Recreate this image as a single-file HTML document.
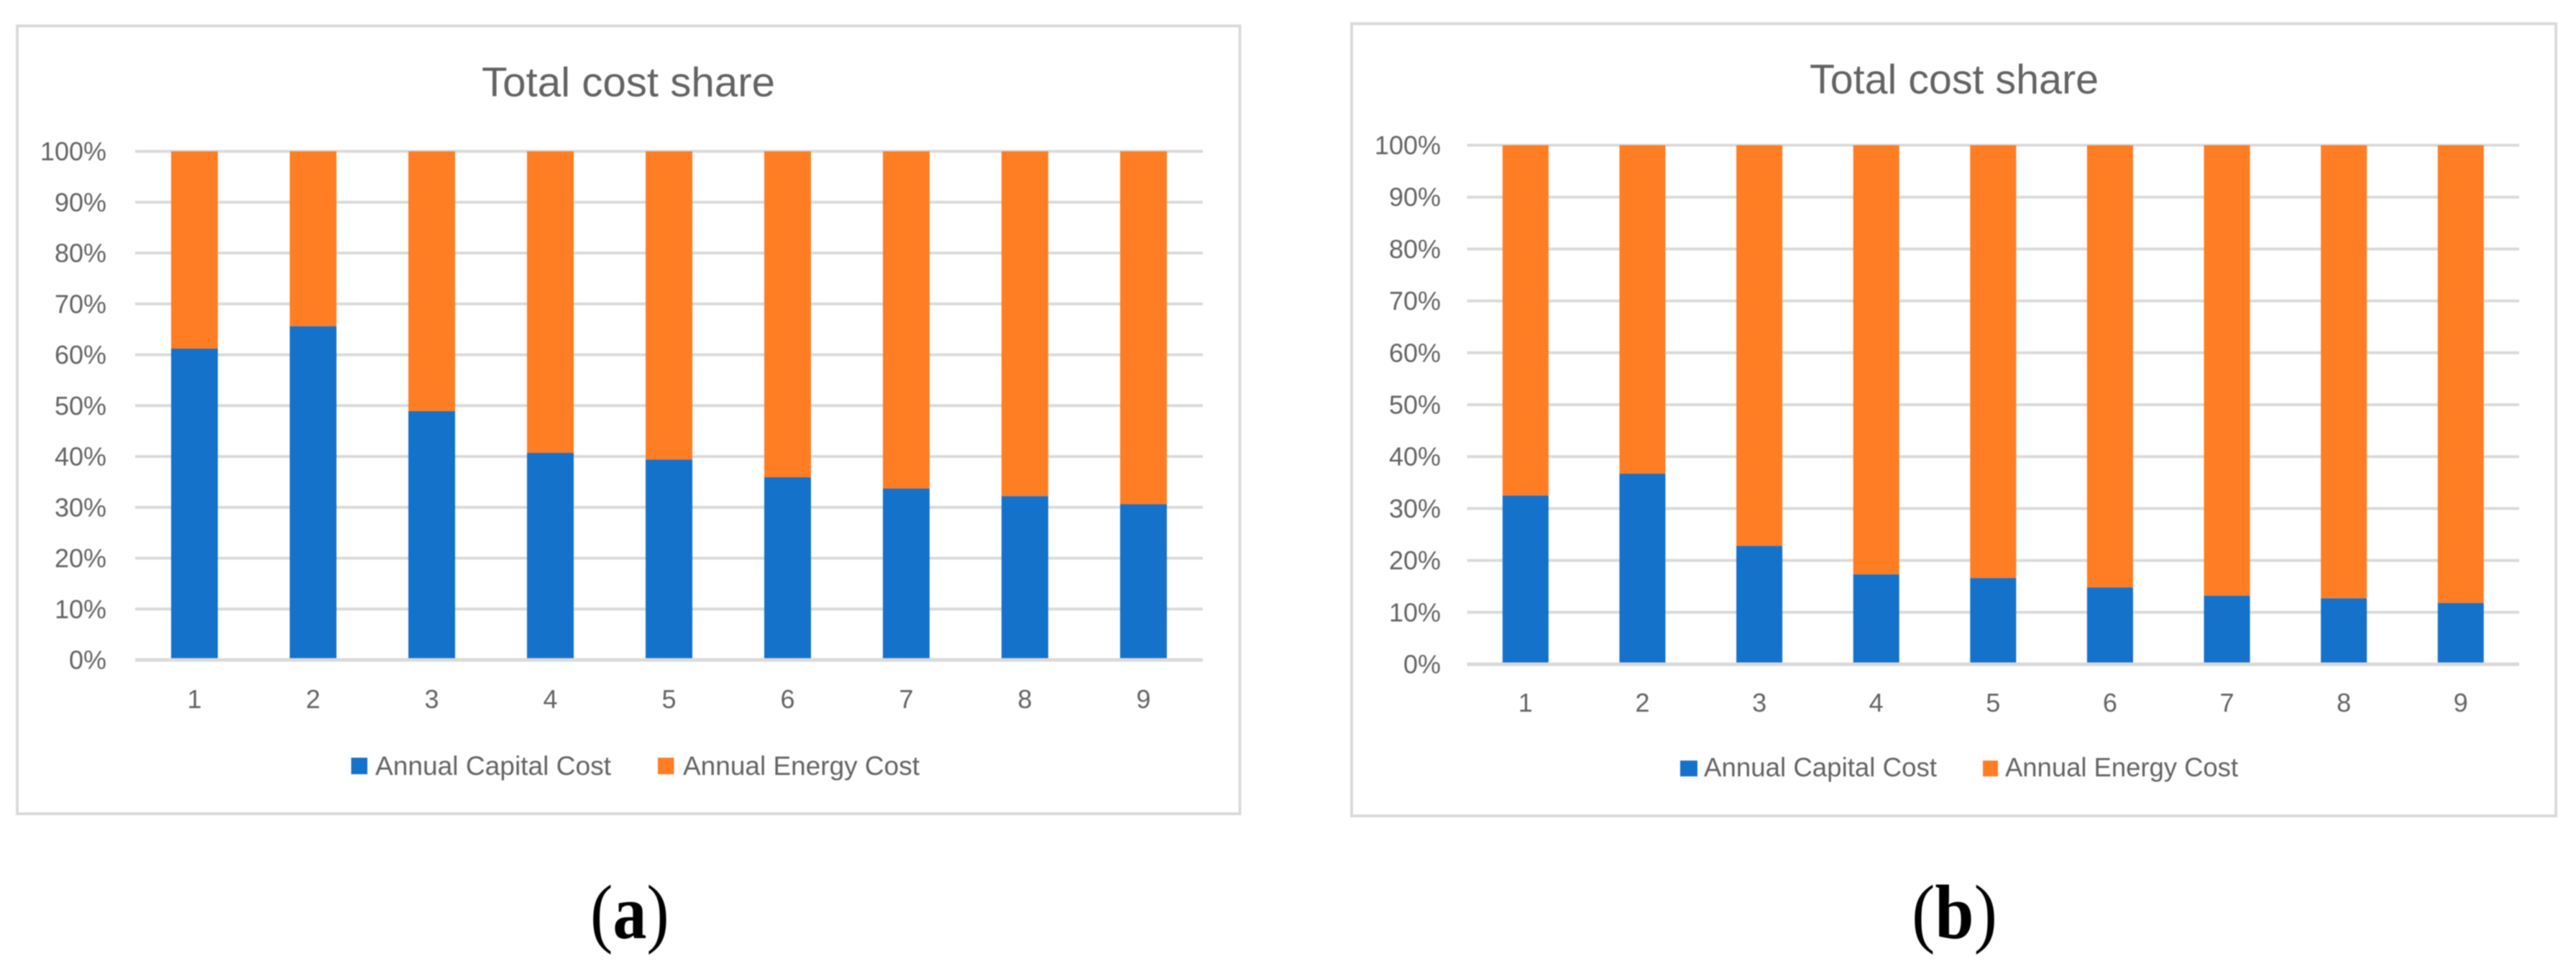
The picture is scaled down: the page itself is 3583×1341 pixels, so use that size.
<!DOCTYPE html>
<html lang="en">
<head>
<meta charset="utf-8">
<title>Total cost share</title>
<style>
html,body{margin:0;padding:0;background:#fff;width:3583px;height:1341px;overflow:hidden}
svg{display:block;filter:blur(0.8px)}
text{font-family:"Liberation Sans",sans-serif;fill:#636363}
.cap{font-family:"Liberation Serif",serif;fill:#000}
</style>
</head>
<body>
<svg id="figure" xmlns="http://www.w3.org/2000/svg" width="3583" height="1341" viewBox="0 0 3583 1341">
  <rect x="0" y="0" width="3583" height="1341" fill="#fff"/>
  <text class="cap" transform="translate(821,1305) scale(0.88,1)" font-size="107">(<tspan font-weight="bold">a</tspan>)</text>
  <text class="cap" transform="translate(2659,1305) scale(0.91,1)" font-size="107">(<tspan font-weight="bold">b</tspan>)</text>
</svg>
<script>
var categories = ['1','2','3','4','5','6','7','8','9'];
var tickValues = [0,10,20,30,40,50,60,70,80,90,100];
var tickLabels = ['0%','10%','20%','30%','40%','50%','60%','70%','80%','90%','100%'];
var seriesNames = ['Annual Capital Cost','Annual Energy Cost'];
var capitalA = [61.2,65.6,48.9,40.7,39.4,35.9,33.7,32.2,30.6];
var energyA = [38.8,34.4,51.1,59.3,60.6,64.1,66.3,67.8,69.4];
var capitalB = [32.5,36.7,22.8,17.3,16.6,14.8,13.2,12.7,11.8];
var energyB = [67.5,63.3,77.2,82.7,83.4,85.2,86.8,87.3,88.2];

var BLUE = '#1472CA';
var ORANGE = '#FF7D23';
var GRID = '#DADADA';
var NS = 'http://www.w3.org/2000/svg';
var root = document.getElementById('figure');

function make(tag, attrs, parent, txt) {
  var el = document.createElementNS(NS, tag);
  for (var k in attrs) el.setAttribute(k, attrs[k]);
  if (txt !== undefined) el.textContent = txt;
  parent.appendChild(el);
  return el;
}

function drawChart(cfg, capital, energy) {
  var g = make('g', {}, root);
  
  

  function yScale(v) { return cfg.y0 + (cfg.y100 - cfg.y0) * v / 100; }
  function xScale(i) { return cfg.left + (cfg.right - cfg.left) * (i + 0.5) / categories.length; }

  var frame = make('rect', {x: cfg.fx, y: cfg.fy, width: cfg.fw, height: cfg.fh, fill: '#fff', stroke: GRID, 'stroke-width': 4}, g);
  
  

  var title = make('text', {x: cfg.titleX, y: cfg.titleY, 'font-size': 57.5, textLength: cfg.titleW, lengthAdjust: 'spacingAndGlyphs'}, g, 'Total cost share');
  
  

  tickValues.forEach(function (v, i) {
    if (v !== 0) {
      var line = make('line', {x1: cfg.left, x2: cfg.right, y1: yScale(v), y2: yScale(v), stroke: GRID, 'stroke-width': 4}, g);
      
      
    }
    var lab = make('text', {x: cfg.tickRight, y: yScale(v) + 12.5, 'text-anchor': 'end', 'font-size': 36}, g, tickLabels[i]);
    
    
  });

  categories.forEach(function (c, i) {
    var total = capital[i] + energy[i];
    var capShare = capital[i] / total * 100;
    var cx = xScale(i);
    var orange = make('rect', {x: cx - cfg.barW / 2, width: cfg.barW, y: yScale(100), height: yScale(capShare) - yScale(100), fill: ORANGE}, g);
    
    
    var blue = make('rect', {x: cx - cfg.barW / 2, width: cfg.barW, y: yScale(capShare), height: yScale(0) - yScale(capShare), fill: BLUE}, g);
    
    
    var lab = make('text', {x: cx, y: cfg.xTickY, 'text-anchor': 'middle', 'font-size': 36}, g, c);
    
    
  });

  var axis = make('line', {x1: cfg.left, x2: cfg.right, y1: yScale(0), y2: yScale(0), stroke: GRID, 'stroke-width': 5}, g);
  
  

  var s1 = make('rect', {x: cfg.sw1, y: cfg.swY, width: cfg.swW1, height: cfg.swH, fill: BLUE}, g);
  
  
  var t1 = make('text', {x: cfg.lt1, y: cfg.legY, 'font-size': 37, textLength: cfg.ltW1, lengthAdjust: 'spacingAndGlyphs'}, g, seriesNames[0]);
  
  
  var s2 = make('rect', {x: cfg.sw2, y: cfg.swY, width: cfg.swW2, height: cfg.swH, fill: ORANGE}, g);
  
  
  var t2 = make('text', {x: cfg.lt2, y: cfg.legY, 'font-size': 37, textLength: cfg.ltW2, lengthAdjust: 'spacingAndGlyphs'}, g, seriesNames[1]);
  
  
}

drawChart({id:'a', fx:24, fy:36, fw:1700.5, fh:1096, left:188, right:1673, y0:918, y100:210.5,
  barW:65, tickRight:148, xTickY:985, titleX:670, titleY:134, titleW:408,
  sw1:488.5, swW1:22.5, sw2:915, swW2:22.5, swY:1054, swH:23, lt1:522, ltW1:328, lt2:950, ltW2:329, legY:1078}, capitalA, energyA);

drawChart({id:'b', fx:1880, fy:33, fw:1675, fh:1102, left:2040.6, right:3504, y0:924, y100:202,
  barW:64, tickRight:2004, xTickY:990, titleX:2517, titleY:130, titleW:402,
  sw1:2337, swW1:24, sw2:2758, swW2:21, swY:1058, swH:22, lt1:2370, ltW1:324, lt2:2789, ltW2:324, legY:1080}, capitalB, energyB);
</script>
</body>
</html>
